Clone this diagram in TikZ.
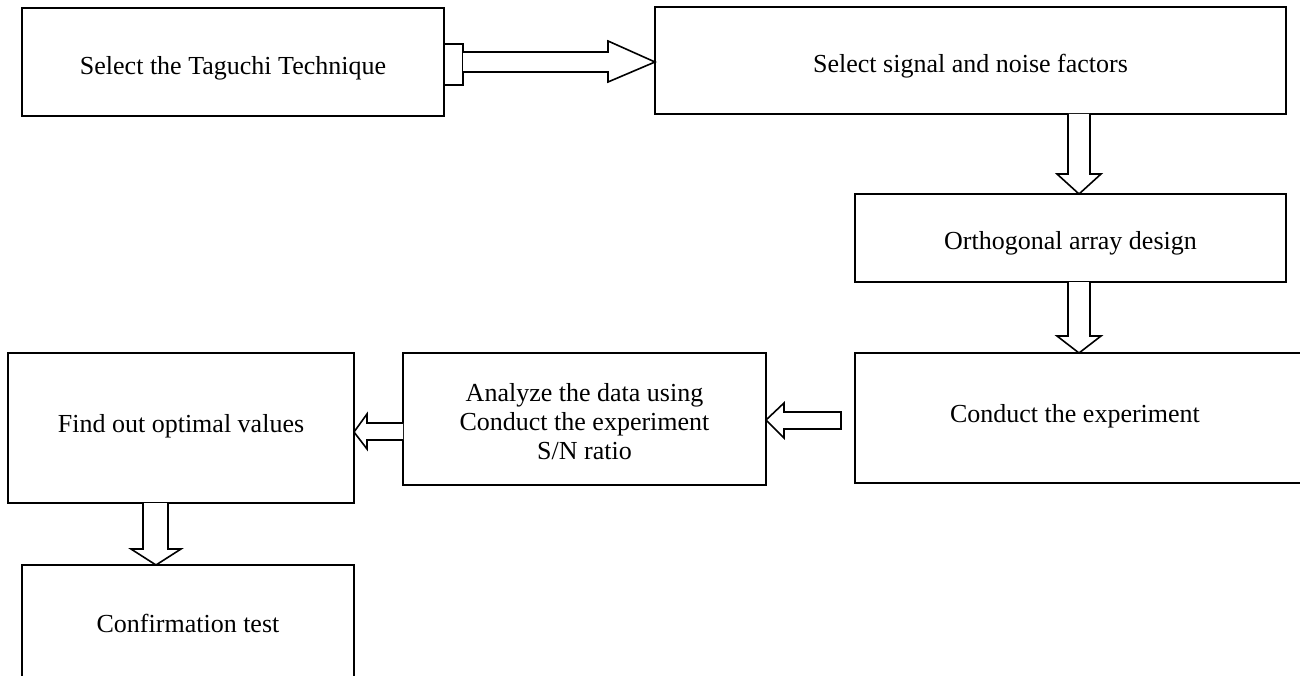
\documentclass[tikz,border=0pt]{standalone}
\usepackage{fontspec}
\setmainfont{Liberation Serif}
\begin{document}
\begin{tikzpicture}[x=1pt,y=-1pt,
  box/.style={draw=black,line width=1.6pt,inner sep=0pt,outer sep=0pt},
  boxtext/.style={inner sep=0pt,align=center,font=\fontsize{26}{29}\selectfont},
  blockarrow/.style={draw=black,line width=1.6pt,fill=white,line join=miter}]
\useasboundingbox (0,0) rectangle (1300,676);
% boxes
\node[box,minimum width=422pt,minimum height=108pt] (b1) at (233,62) {};
\node[box,minimum width=631pt,minimum height=107pt] (b2) at (970.5,60.5) {};
\node[box,minimum width=431pt,minimum height=88pt] (b3) at (1070.5,238) {};
\node[box,minimum width=447pt,minimum height=130pt] (b4) at (1078.5,418) {};
\node[box,minimum width=363pt,minimum height=132pt] (b5) at (584.5,419) {};
\node[box,minimum width=346pt,minimum height=150pt] (b6) at (181,428) {};
\node[box,minimum width=332pt,minimum height=116pt] (b7) at (188,623) {};
% texts
\node[boxtext] (t1) at (233,68) {Select the Taguchi Technique};
\node[boxtext] (t2) at (970.5,66.5) {Select signal and noise factors};
\node[boxtext] (t3) at (1070.5,243) {Orthogonal array design};
\node[boxtext] (t4) at (1075,416) {Conduct the experiment};
\node[boxtext] (t5) at (584.5,422) {Analyze the data using\\Conduct the experiment\\S/N ratio};
\node[boxtext] (t6) at (181,426) {Find out optimal values};
\node[boxtext] (t7) at (188,623) {Confirmation test};
% arrow b1 -> b2 (with tail block)
\draw[blockarrow] (b1.east |- 0,44) rectangle (463,85);
\draw[blockarrow] (463,52) -- (608,52) -- (608,41) -- (b2.west |- 0,62) -- (608,82) -- (608,72) -- (463,72);
% arrow b2 -> b3
\draw[blockarrow] (1068,114) -- (1068,174) -- (1057,174) -- (b3.north -| 1079,0) -- (1101,174) -- (1090,174) -- (1090,114);
% arrow b3 -> b4
\draw[blockarrow] (1068,282) -- (1068,336) -- (1057,336) -- (b4.north -| 1079,0) -- (1101,336) -- (1090,336) -- (1090,282);
% arrow b4 -> b5
\draw[blockarrow] (841,412) -- (784,412) -- (784,403) -- (b5.east |- 0,420) -- (784,438) -- (784,429) -- (841,429) -- cycle;
% arrow b5 -> b6
\draw[blockarrow] (403,423) -- (367,423) -- (367,414) -- (b6.east |- 0,432) -- (367,449) -- (367,440) -- (403,440);
% arrow b6 -> b7
\draw[blockarrow] (143,503) -- (143,549) -- (131,549) -- (b7.north -| 156,0) -- (181,549) -- (168,549) -- (168,503);
\end{tikzpicture}
\end{document}
